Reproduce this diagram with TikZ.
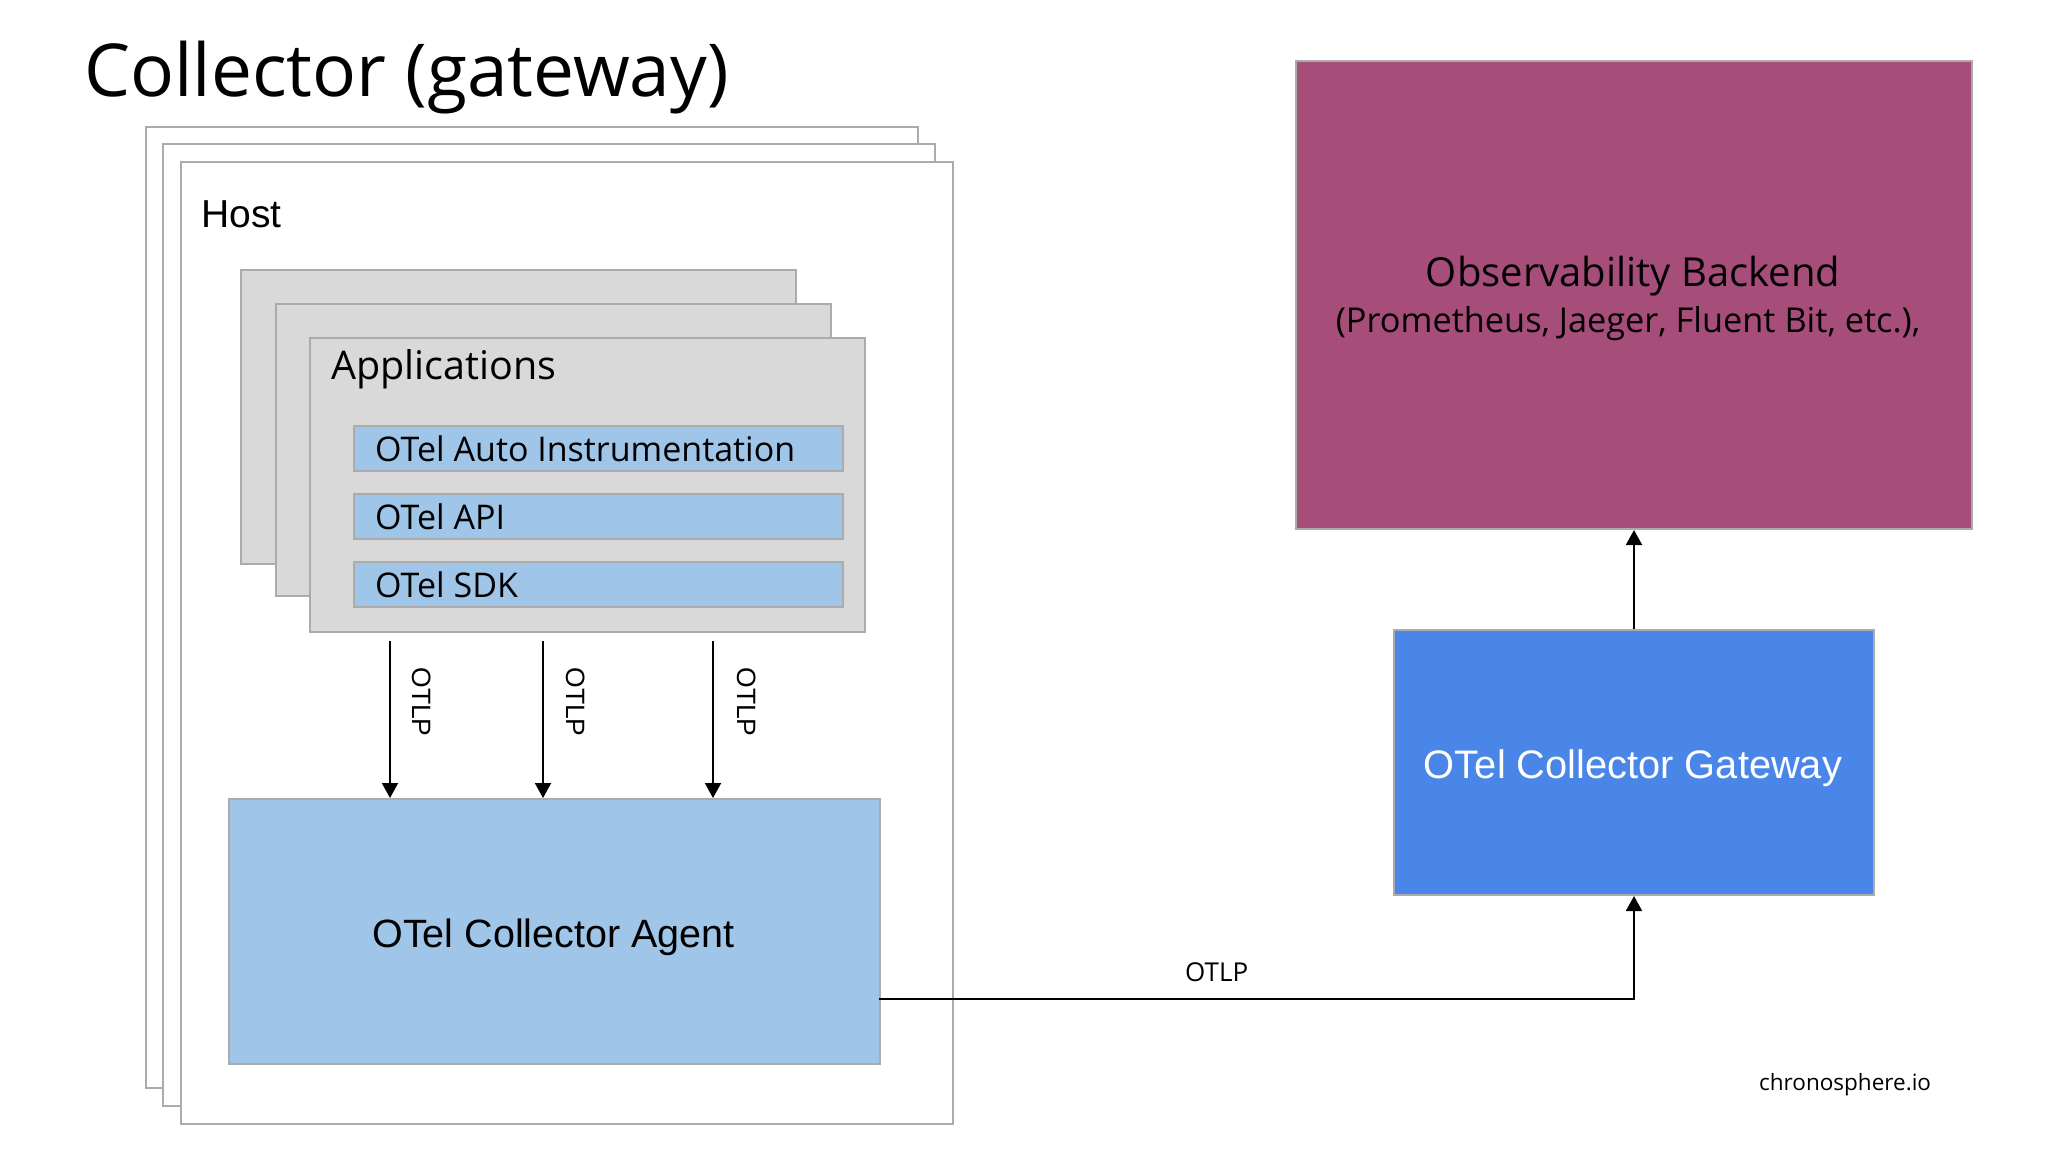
\documentclass[tikz,border=0pt]{standalone}
\usepackage{fontspec}
\setmainfont{Open Sans}
\newfontfamily\arial{Liberation Sans}
\usetikzlibrary{arrows.meta}
\definecolor{bordergray}{HTML}{ABABAB}
\definecolor{appgray}{HTML}{D9D9D9}
\definecolor{lightblue}{HTML}{9FC5E8}
\definecolor{gwblue}{HTML}{4A86E8}
\definecolor{magentab}{HTML}{A64D79}
\newcommand{\fsz}[1]{\fontsize{#1}{#1}\selectfont}
\tikzset{
  box/.style={draw=bordergray, line width=2pt, inner sep=0pt, anchor=north west},
  lbl/.style={inner sep=0pt, anchor=base west},
  arr/.style={line width=2pt, -{Triangle[length=15pt,width=16pt]}},
}
\begin{document}
\begin{tikzpicture}[x=1pt,y=-1pt]
\useasboundingbox[fill=white] (0,0) rectangle (2048,1152);
% title
\node[lbl] (title) at (84,96) {\fsz{73}Collector (gateway)};
% host stack
\node[box, fill=white, minimum width=772pt, minimum height=961pt] (host3) at (145,126) {};
\node[box, fill=white, minimum width=772pt, minimum height=962pt] (host2) at (162,143) {};
\node[box, fill=white, minimum width=772pt, minimum height=962pt] (host1) at (180,160.5) {};
\node[lbl] (hostlbl) at (201,227) {\arial\fsz{39}Host};
% application stack
\node[box, fill=appgray, minimum width=555pt, minimum height=294pt] (app3) at (240,268.5) {};
\node[box, fill=appgray, minimum width=555pt, minimum height=292pt] (app2) at (275,303) {};
\node[box, fill=appgray, minimum width=555pt, minimum height=294pt] (app1) at (309,336.5) {};
\node[lbl] (applbl) at (331,379) {\fsz{39.5}Applications};
\node[box, fill=lightblue, minimum width=489pt, minimum height=45pt] (bar1) at (353,425) {};
\node[box, fill=lightblue, minimum width=489pt, minimum height=45pt] (bar2) at (353,493) {};
\node[box, fill=lightblue, minimum width=489pt, minimum height=45pt] (bar3) at (353,561) {};
\node[lbl] (bar1t) at (375,461) {\fsz{34}OTel Auto Instrumentation};
\node[lbl] (bar2t) at (375,529) {\fsz{34}OTel API};
\node[lbl] (bar3t) at (375,597) {\fsz{34}OTel SDK};
% agent
\node[box, fill=lightblue, minimum width=651pt, minimum height=265pt] (agent) at (228,798) {};
\node[inner sep=0pt, anchor=base] (agentt) at (553.5,947) {\arial\fsz{39.5}OTel Collector Agent};
% OTLP arrows
\coordinate (s1) at (390,641);
\coordinate (s2) at (543,641);
\coordinate (s3) at (713,641);
\draw[arr] (s1) -- (s1 |- agent.north);
\draw[arr] (s2) -- (s2 |- agent.north);
\draw[arr] (s3) -- (s3 |- agent.north);
\node[inner sep=0pt, rotate=-90] (o1) at (422,702) {\arial\fsz{26.5}OTLP};
\node[inner sep=0pt, rotate=-90] (o2) at (576,702) {\arial\fsz{26.5}OTLP};
\node[inner sep=0pt, rotate=-90] (o3) at (747,702) {\arial\fsz{26.5}OTLP};
% gateway
\node[box, fill=gwblue, minimum width=480pt, minimum height=265pt] (gw) at (1393,629) {};
\node[inner sep=0pt, anchor=base, text=white] (gwt) at (1633,778) {\arial\fsz{39.8}OTel Collector Gateway};
% backend
\node[box, fill=magentab, minimum width=676pt, minimum height=468.5pt] (backend) at (1295,59.5) {};
\node[inner sep=0pt, anchor=base] (bt1) at (1633,286) {\fsz{40}Observability Backend};
\node[inner sep=0pt, anchor=base] (bt2) at (1628,332.5) {\fsz{34.3}(Prometheus, Jaeger, Fluent Bit, etc.),};
% connectors
\coordinate (ae) at (879,999);
\draw[arr] (ae) -| (gw.south);
\draw[arr] (gw.north) -- (backend.south);
\node[lbl] (otlph) at (1185,981) {\fsz{26}OTLP};
\node[lbl] (brand) at (1759,1090) {\fsz{22.5}chronosphere.io};
\end{tikzpicture}
\end{document}
